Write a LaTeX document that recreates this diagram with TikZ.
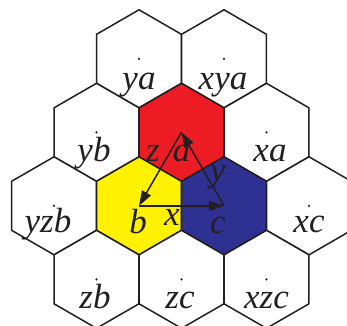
\documentclass[tikz,border=0pt]{standalone}
\usepackage{fontspec}
\setmainfont{Liberation Serif}
\usetikzlibrary{arrows.meta}

\definecolor{ink}{RGB}{35,31,32}
\definecolor{cellred}{RGB}{237,28,36}
\definecolor{cellyellow}{RGB}{255,242,0}
\definecolor{cellblue}{RGB}{46,49,146}

\tikzset{
	cell/.style={draw=ink, line width=1.5pt, line join=miter},
	lbl/.style={font=\fontsize{35}{42}\selectfont\itshape, text=ink, anchor=base, inner sep=0pt},
	vec/.style={draw=ink, line width=1.5pt, -{Triangle[length=15pt, width=10pt]}}
}

\begin{document}
\begin{tikzpicture}[x=1pt, y=-1pt]
	\useasboundingbox (0, 0) rectangle (347, 325);
	\clip (0, 0) rectangle (347, 325);
	% hexagonal cells
	\foreach \name/\cx/\cy/\col in {ya/139/58.8/white, xya/224/58.8/white,
			yb/96.5/132.3/white, a/181.5/132.3/cellred, xa/266.5/132.3/white,
			yzb/54/205.8/white, b/139/205.8/cellyellow, c/224/205.8/cellblue, xc/309/205.8/white,
			zb/96.5/279.3/white, zc/181.5/279.3/white, xzc/266.5/279.3/white} {
		\coordinate (\name) at (\cx, \cy);
		\filldraw[cell, fill=\col] (\name) +(90:49) -- +(150:49) -- +(210:49) -- +(270:49) -- +(330:49)
			-- +(30:49) -- cycle;
	}
	% centre dots
	\foreach \name in {ya, xya, yb, xa, yzb, xc, zb, zc, xzc}
		\fill[ink] (\name) circle (1.2);
	% generators
	\draw[vec] (a) -- (b);
	\draw[vec] (b) -- (c);
	\draw[vec] (c) -- (a);
	% labels
	\node[lbl] (l-ya) at (139, 89) {ya};
	\node[lbl] (l-xya) at (223, 89) {xya};
	\node[lbl] (l-yb) at (94, 161) {yb};
	\node[lbl] (l-z) at (153, 161) {z};
	\node[lbl] (l-a) at (181.7, 161) {a};
	\node[lbl] (l-xa) at (270, 161) {xa};
	\node[lbl] (l-y) at (218, 181) {y};
	\node[lbl] (l-yzb) at (48, 232) {yzb};
	\node[lbl] (l-b) at (138, 233) {b};
	\node[lbl] (l-x) at (172, 225) {x};
	\node[lbl] (l-c) at (218, 233) {c};
	\node[lbl] (l-xc) at (309, 232) {xc};
	\node[lbl] (l-zb) at (95, 308) {zb};
	\node[lbl] (l-zc) at (180, 308) {zc};
	\node[lbl] (l-xzc) at (266.5, 308) {xzc};
\end{tikzpicture}
\end{document}
